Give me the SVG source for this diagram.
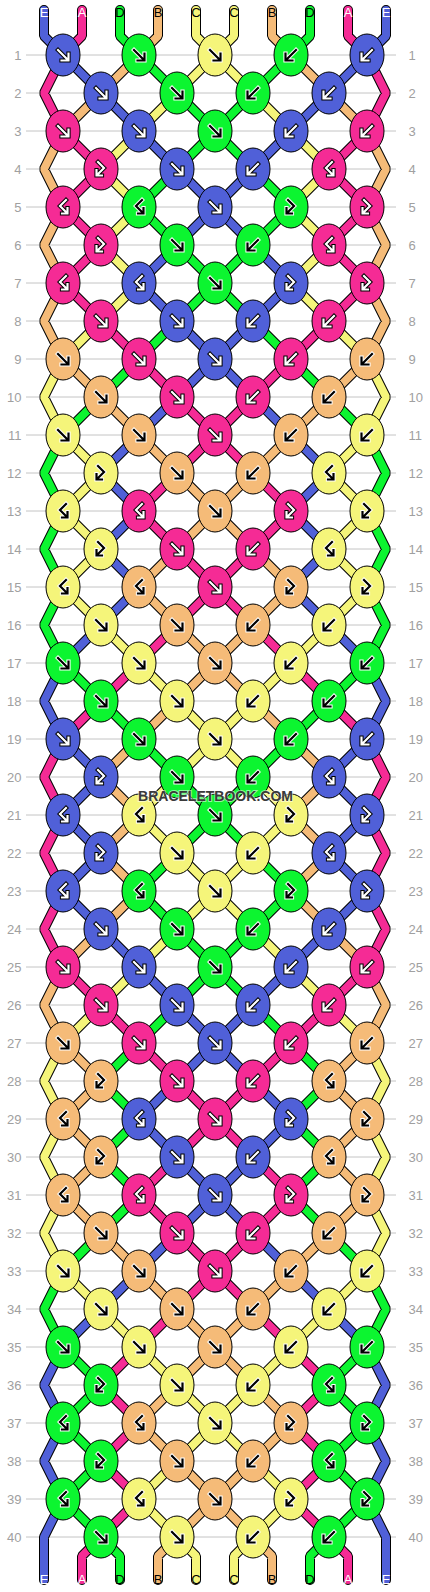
<svg xmlns="http://www.w3.org/2000/svg" xmlns:xlink="http://www.w3.org/1999/xlink" width="430" height="1592" viewBox="0 0 430 1592">
<style>
.bg{fill:#fff}
.grid{fill:none;stroke:#c4c4c4;stroke-width:1}
.rl{font-family:"Liberation Sans",Arial,sans-serif;font-size:13px;fill:#a0a0a0}
.rl.l{text-anchor:end}
.sl{font-family:"Liberation Sans",Arial,sans-serif;font-size:13px;text-anchor:middle}
.lw{fill:#fff}
.lk{fill:#000}
.so{fill:none;stroke:#000;stroke-width:10;stroke-linejoin:bevel;stroke-linecap:round}
.sc{fill:none;stroke-width:8;stroke-linejoin:bevel;stroke-linecap:round}
.sE{stroke:#5060d8}.sA{stroke:#f52b95}.sD{stroke:#0cf530}.sB{stroke:#f5bb78}.sC{stroke:#f5f57a}
ellipse{stroke:#000;stroke-width:1}
.E{fill:#5060d8}.A{fill:#f52b95}.D{fill:#0cf530}.B{fill:#f5bb78}.C{fill:#f5f57a}
.ow{fill:none;stroke:#fff;stroke-width:4.2;stroke-linecap:square}
.ok{fill:none;stroke:#000;stroke-width:4.2;stroke-linecap:square}
.aw{fill:none;stroke:#fff;stroke-width:2.2;stroke-linecap:square}
.ak{fill:none;stroke:#000;stroke-width:2.2;stroke-linecap:square}
.wm{font-family:"Liberation Sans",Arial,sans-serif;font-weight:bold;font-size:15px;fill:#3a3a3a;stroke:#fff;stroke-opacity:.55;stroke-width:2;paint-order:stroke;text-anchor:middle}
</style>
<defs>
<path id="pf" d="M-5-5L4 4M5.5-1.5V5.5H-1.5"/>
<path id="pb" d="M5-5L-4 4M-5.5-1.5V5.5H1.5"/>
<path id="pfb" d="M-3-7L3-1L-3 5M-4.5 1V6.5H1"/>
<path id="pbf" d="M3-7L-3-1L3 5M4.5 1V6.5H-1"/>
<g id="fW"><use href="#pf" class="ok"/><use href="#pf" class="aw"/></g>
<g id="bW"><use href="#pb" class="ok"/><use href="#pb" class="aw"/></g>
<g id="fbW"><use href="#pfb" class="ok"/><use href="#pfb" class="aw"/></g>
<g id="bfW"><use href="#pbf" class="ok"/><use href="#pbf" class="aw"/></g>
<g id="fK"><use href="#pf" class="ow"/><use href="#pf" class="ak"/></g>
<g id="bK"><use href="#pb" class="ow"/><use href="#pb" class="ak"/></g>
<g id="fbK"><use href="#pfb" class="ow"/><use href="#pfb" class="ak"/></g>
<g id="bfK"><use href="#pbf" class="ow"/><use href="#pbf" class="ak"/></g>
<path id="strE" d="M44 10V36L63 55M386 10V36L367 55M63 55l38 38M367 55l-38 38M101 93l38 38M329 93l-38 38M139 131l38 38M291 131l-38 38M177 169l38 38M253 169l-38 38M215 207l-38 38M215 207l38 38M177 245l-38 38M253 245l38 38M139 283l38 38M291 283l-38 38M177 321l38 38M253 321l-38 38M215 359l-38 38M215 359l38 38M177 397l-38 38M253 397l38 38M139 435l-38 38M291 435l38 38M101 473l38 38M329 473l-38 38M139 511l-38 38M291 511l38 38M101 549l38 38M329 549l-38 38M139 587l-38 38M291 587l38 38M101 625l-38 38M329 625l38 38M63 663l-19 38l19 38M367 663l19 38l-19 38M63 739l38 38M367 739l-38 38M101 777l-38 38M329 777l38 38M63 815l38 38M367 815l-38 38M101 853l-38 38M329 853l38 38M63 891l38 38M367 891l-38 38M101 929l38 38M329 929l-38 38M139 967l38 38M291 967l-38 38M177 1005l38 38M253 1005l-38 38M215 1043l-38 38M215 1043l38 38M177 1081l-38 38M253 1081l38 38M139 1119l38 38M291 1119l-38 38M177 1157l38 38M253 1157l-38 38M215 1195l-38 38M215 1195l38 38M177 1233l-38 38M253 1233l38 38M139 1271l-38 38M291 1271l38 38M101 1309l-38 38M329 1309l38 38M63 1347l-19 38l19 38M367 1347l19 38l-19 38M63 1423l-19 38l19 38M367 1423l19 38l-19 38M63 1499l-19 38V1580M367 1499l19 38V1580"/>
<path id="strA" d="M82 10V36L63 55M348 10V36L367 55M63 55l-19 38l19 38M367 55l19 38l-19 38M63 131l38 38M367 131l-38 38M101 169l-38 38M329 169l38 38M63 207l38 38M367 207l-38 38M101 245l-38 38M329 245l38 38M63 283l38 38M367 283l-38 38M101 321l38 38M329 321l-38 38M139 359l38 38M291 359l-38 38M177 397l38 38M253 397l-38 38M215 435l-38 38M215 435l38 38M177 473l-38 38M253 473l38 38M139 511l38 38M291 511l-38 38M177 549l38 38M253 549l-38 38M215 587l-38 38M215 587l38 38M177 625l-38 38M253 625l38 38M139 663l-38 38M291 663l38 38M101 701l-38 38M329 701l38 38M63 739l-19 38l19 38M367 739l19 38l-19 38M63 815l-19 38l19 38M367 815l19 38l-19 38M63 891l-19 38l19 38M367 891l19 38l-19 38M63 967l38 38M367 967l-38 38M101 1005l38 38M329 1005l-38 38M139 1043l38 38M291 1043l-38 38M177 1081l38 38M253 1081l-38 38M215 1119l-38 38M215 1119l38 38M177 1157l-38 38M253 1157l38 38M139 1195l38 38M291 1195l-38 38M177 1233l38 38M253 1233l-38 38M215 1271l-38 38M215 1271l38 38M177 1309l-38 38M253 1309l38 38M139 1347l-38 38M291 1347l38 38M101 1385l38 38M329 1385l-38 38M139 1423l-38 38M291 1423l38 38M101 1461l38 38M329 1461l-38 38M139 1499l-38 38M291 1499l38 38M101 1537l-19 19V1580M329 1537l19 19V1580"/>
<path id="strD" d="M120 10V36L139 55M310 10V36L291 55M139 55l38 38M291 55l-38 38M177 93l38 38M253 93l-38 38M215 131l-38 38M215 131l38 38M177 169l-38 38M253 169l38 38M139 207l38 38M291 207l-38 38M177 245l38 38M253 245l-38 38M215 283l-38 38M215 283l38 38M177 321l-38 38M253 321l38 38M139 359l-38 38M291 359l38 38M101 397l-38 38M329 397l38 38M63 435l-19 38l19 38M367 435l19 38l-19 38M63 511l-19 38l19 38M367 511l19 38l-19 38M63 587l-19 38l19 38M367 587l19 38l-19 38M63 663l38 38M367 663l-38 38M101 701l38 38M329 701l-38 38M139 739l38 38M291 739l-38 38M177 777l38 38M253 777l-38 38M215 815l-38 38M215 815l38 38M177 853l-38 38M253 853l38 38M139 891l38 38M291 891l-38 38M177 929l38 38M253 929l-38 38M215 967l-38 38M215 967l38 38M177 1005l-38 38M253 1005l38 38M139 1043l-38 38M291 1043l38 38M101 1081l38 38M329 1081l-38 38M139 1119l-38 38M291 1119l38 38M101 1157l38 38M329 1157l-38 38M139 1195l-38 38M291 1195l38 38M101 1233l-38 38M329 1233l38 38M63 1271l-19 38l19 38M367 1271l19 38l-19 38M63 1347l38 38M367 1347l-38 38M101 1385l-38 38M329 1385l38 38M63 1423l38 38M367 1423l-38 38M101 1461l-38 38M329 1461l38 38M63 1499l38 38M367 1499l-38 38M101 1537l19 19V1580M329 1537l-19 19V1580"/>
<path id="strB" d="M158 10V36L139 55M272 10V36L291 55M139 55l-38 38M291 55l38 38M101 93l-38 38M329 93l38 38M63 131l-19 38l19 38M367 131l19 38l-19 38M63 207l-19 38l19 38M367 207l19 38l-19 38M63 283l-19 38l19 38M367 283l19 38l-19 38M63 359l38 38M367 359l-38 38M101 397l38 38M329 397l-38 38M139 435l38 38M291 435l-38 38M177 473l38 38M253 473l-38 38M215 511l-38 38M215 511l38 38M177 549l-38 38M253 549l38 38M139 587l38 38M291 587l-38 38M177 625l38 38M253 625l-38 38M215 663l-38 38M215 663l38 38M177 701l-38 38M253 701l38 38M139 739l-38 38M291 739l38 38M101 777l38 38M329 777l-38 38M139 815l-38 38M291 815l38 38M101 853l38 38M329 853l-38 38M139 891l-38 38M291 891l38 38M101 929l-38 38M329 929l38 38M63 967l-19 38l19 38M367 967l19 38l-19 38M63 1043l38 38M367 1043l-38 38M101 1081l-38 38M329 1081l38 38M63 1119l38 38M367 1119l-38 38M101 1157l-38 38M329 1157l38 38M63 1195l38 38M367 1195l-38 38M101 1233l38 38M329 1233l-38 38M139 1271l38 38M291 1271l-38 38M177 1309l38 38M253 1309l-38 38M215 1347l-38 38M215 1347l38 38M177 1385l-38 38M253 1385l38 38M139 1423l38 38M291 1423l-38 38M177 1461l38 38M253 1461l-38 38M215 1499l-38 38M215 1499l38 38M177 1537l-19 19V1580M253 1537l19 19V1580"/>
<path id="strC" d="M196 10V36L215 55M234 10V36L215 55M215 55l-38 38M215 55l38 38M177 93l-38 38M253 93l38 38M139 131l-38 38M291 131l38 38M101 169l38 38M329 169l-38 38M139 207l-38 38M291 207l38 38M101 245l38 38M329 245l-38 38M139 283l-38 38M291 283l38 38M101 321l-38 38M329 321l38 38M63 359l-19 38l19 38M367 359l19 38l-19 38M63 435l38 38M367 435l-38 38M101 473l-38 38M329 473l38 38M63 511l38 38M367 511l-38 38M101 549l-38 38M329 549l38 38M63 587l38 38M367 587l-38 38M101 625l38 38M329 625l-38 38M139 663l38 38M291 663l-38 38M177 701l38 38M253 701l-38 38M215 739l-38 38M215 739l38 38M177 777l-38 38M253 777l38 38M139 815l38 38M291 815l-38 38M177 853l38 38M253 853l-38 38M215 891l-38 38M215 891l38 38M177 929l-38 38M253 929l38 38M139 967l-38 38M291 967l38 38M101 1005l-38 38M329 1005l38 38M63 1043l-19 38l19 38M367 1043l19 38l-19 38M63 1119l-19 38l19 38M367 1119l19 38l-19 38M63 1195l-19 38l19 38M367 1195l19 38l-19 38M63 1271l38 38M367 1271l-38 38M101 1309l38 38M329 1309l-38 38M139 1347l38 38M291 1347l-38 38M177 1385l38 38M253 1385l-38 38M215 1423l-38 38M215 1423l38 38M177 1461l-38 38M253 1461l38 38M139 1499l38 38M291 1499l-38 38M177 1537l19 19V1580M253 1537l-19 19V1580"/>
</defs>
<rect class="bg" x="0" y="0" width="430" height="1592"/>
<path id="grid" class="grid" d="M26 55H396M26 93H396M26 131H396M26 169H396M26 207H396M26 245H396M26 283H396M26 321H396M26 359H396M26 397H396M26 435H396M26 473H396M26 511H396M26 549H396M26 587H396M26 625H396M26 663H396M26 701H396M26 739H396M26 777H396M26 815H396M26 853H396M26 891H396M26 929H396M26 967H396M26 1005H396M26 1043H396M26 1081H396M26 1119H396M26 1157H396M26 1195H396M26 1233H396M26 1271H396M26 1309H396M26 1347H396M26 1385H396M26 1423H396M26 1461H396M26 1499H396M26 1537H396"/>
<g id="row-labels">
<text class="rl l" x="21.5" y="59.5">1</text><text class="rl" x="408.5" y="59.5">1</text>
<text class="rl l" x="21.5" y="97.5">2</text><text class="rl" x="408.5" y="97.5">2</text>
<text class="rl l" x="21.5" y="135.5">3</text><text class="rl" x="408.5" y="135.5">3</text>
<text class="rl l" x="21.5" y="173.5">4</text><text class="rl" x="408.5" y="173.5">4</text>
<text class="rl l" x="21.5" y="211.5">5</text><text class="rl" x="408.5" y="211.5">5</text>
<text class="rl l" x="21.5" y="249.5">6</text><text class="rl" x="408.5" y="249.5">6</text>
<text class="rl l" x="21.5" y="287.5">7</text><text class="rl" x="408.5" y="287.5">7</text>
<text class="rl l" x="21.5" y="325.5">8</text><text class="rl" x="408.5" y="325.5">8</text>
<text class="rl l" x="21.5" y="363.5">9</text><text class="rl" x="408.5" y="363.5">9</text>
<text class="rl l" x="21.5" y="401.5">10</text><text class="rl" x="408.5" y="401.5">10</text>
<text class="rl l" x="21.5" y="439.5">11</text><text class="rl" x="408.5" y="439.5">11</text>
<text class="rl l" x="21.5" y="477.5">12</text><text class="rl" x="408.5" y="477.5">12</text>
<text class="rl l" x="21.5" y="515.5">13</text><text class="rl" x="408.5" y="515.5">13</text>
<text class="rl l" x="21.5" y="553.5">14</text><text class="rl" x="408.5" y="553.5">14</text>
<text class="rl l" x="21.5" y="591.5">15</text><text class="rl" x="408.5" y="591.5">15</text>
<text class="rl l" x="21.5" y="629.5">16</text><text class="rl" x="408.5" y="629.5">16</text>
<text class="rl l" x="21.5" y="667.5">17</text><text class="rl" x="408.5" y="667.5">17</text>
<text class="rl l" x="21.5" y="705.5">18</text><text class="rl" x="408.5" y="705.5">18</text>
<text class="rl l" x="21.5" y="743.5">19</text><text class="rl" x="408.5" y="743.5">19</text>
<text class="rl l" x="21.5" y="781.5">20</text><text class="rl" x="408.5" y="781.5">20</text>
<text class="rl l" x="21.5" y="819.5">21</text><text class="rl" x="408.5" y="819.5">21</text>
<text class="rl l" x="21.5" y="857.5">22</text><text class="rl" x="408.5" y="857.5">22</text>
<text class="rl l" x="21.5" y="895.5">23</text><text class="rl" x="408.5" y="895.5">23</text>
<text class="rl l" x="21.5" y="933.5">24</text><text class="rl" x="408.5" y="933.5">24</text>
<text class="rl l" x="21.5" y="971.5">25</text><text class="rl" x="408.5" y="971.5">25</text>
<text class="rl l" x="21.5" y="1009.5">26</text><text class="rl" x="408.5" y="1009.5">26</text>
<text class="rl l" x="21.5" y="1047.5">27</text><text class="rl" x="408.5" y="1047.5">27</text>
<text class="rl l" x="21.5" y="1085.5">28</text><text class="rl" x="408.5" y="1085.5">28</text>
<text class="rl l" x="21.5" y="1123.5">29</text><text class="rl" x="408.5" y="1123.5">29</text>
<text class="rl l" x="21.5" y="1161.5">30</text><text class="rl" x="408.5" y="1161.5">30</text>
<text class="rl l" x="21.5" y="1199.5">31</text><text class="rl" x="408.5" y="1199.5">31</text>
<text class="rl l" x="21.5" y="1237.5">32</text><text class="rl" x="408.5" y="1237.5">32</text>
<text class="rl l" x="21.5" y="1275.5">33</text><text class="rl" x="408.5" y="1275.5">33</text>
<text class="rl l" x="21.5" y="1313.5">34</text><text class="rl" x="408.5" y="1313.5">34</text>
<text class="rl l" x="21.5" y="1351.5">35</text><text class="rl" x="408.5" y="1351.5">35</text>
<text class="rl l" x="21.5" y="1389.5">36</text><text class="rl" x="408.5" y="1389.5">36</text>
<text class="rl l" x="21.5" y="1427.5">37</text><text class="rl" x="408.5" y="1427.5">37</text>
<text class="rl l" x="21.5" y="1465.5">38</text><text class="rl" x="408.5" y="1465.5">38</text>
<text class="rl l" x="21.5" y="1503.5">39</text><text class="rl" x="408.5" y="1503.5">39</text>
<text class="rl l" x="21.5" y="1541.5">40</text><text class="rl" x="408.5" y="1541.5">40</text>
</g>
<g id="connectors">
<use href="#strE" class="so"/><use href="#strA" class="so"/><use href="#strD" class="so"/><use href="#strB" class="so"/><use href="#strC" class="so"/>
<use href="#strE" class="sc sE"/><use href="#strA" class="sc sA"/><use href="#strD" class="sc sD"/><use href="#strB" class="sc sB"/><use href="#strC" class="sc sC"/>
</g>
<g id="string-labels">
<text class="sl lw" x="44" y="17">E</text><text class="sl lw" x="82" y="17">A</text><text class="sl lk" x="120" y="17">D</text><text class="sl lk" x="158" y="17">B</text><text class="sl lk" x="196" y="17">C</text><text class="sl lk" x="234" y="17">C</text><text class="sl lk" x="272" y="17">B</text><text class="sl lk" x="310" y="17">D</text><text class="sl lw" x="348" y="17">A</text><text class="sl lw" x="386" y="17">E</text>
<text class="sl lw" x="44" y="1584">E</text><text class="sl lw" x="82" y="1584">A</text><text class="sl lk" x="120" y="1584">D</text><text class="sl lk" x="158" y="1584">B</text><text class="sl lk" x="196" y="1584">C</text><text class="sl lk" x="234" y="1584">C</text><text class="sl lk" x="272" y="1584">B</text><text class="sl lk" x="310" y="1584">D</text><text class="sl lw" x="348" y="1584">A</text><text class="sl lw" x="386" y="1584">E</text>
</g>
<g id="knots">
<g id="k1-1"><ellipse class="E" cx="63" cy="55" rx="17" ry="21"/><use href="#fW" x="63" y="55"/></g>
<g id="k1-2"><ellipse class="D" cx="139" cy="55" rx="17" ry="21"/><use href="#fK" x="139" y="55"/></g>
<g id="k1-3"><ellipse class="C" cx="215" cy="55" rx="17" ry="21"/><use href="#fK" x="215" y="55"/></g>
<g id="k1-4"><ellipse class="D" cx="291" cy="55" rx="17" ry="21"/><use href="#bK" x="291" y="55"/></g>
<g id="k1-5"><ellipse class="E" cx="367" cy="55" rx="17" ry="21"/><use href="#bW" x="367" y="55"/></g>
<g id="k2-1"><ellipse class="E" cx="101" cy="93" rx="17" ry="21"/><use href="#fW" x="101" y="93"/></g>
<g id="k2-2"><ellipse class="D" cx="177" cy="93" rx="17" ry="21"/><use href="#fK" x="177" y="93"/></g>
<g id="k2-3"><ellipse class="D" cx="253" cy="93" rx="17" ry="21"/><use href="#bK" x="253" y="93"/></g>
<g id="k2-4"><ellipse class="E" cx="329" cy="93" rx="17" ry="21"/><use href="#bW" x="329" y="93"/></g>
<g id="k3-1"><ellipse class="A" cx="63" cy="131" rx="17" ry="21"/><use href="#fW" x="63" y="131"/></g>
<g id="k3-2"><ellipse class="E" cx="139" cy="131" rx="17" ry="21"/><use href="#fW" x="139" y="131"/></g>
<g id="k3-3"><ellipse class="D" cx="215" cy="131" rx="17" ry="21"/><use href="#fK" x="215" y="131"/></g>
<g id="k3-4"><ellipse class="E" cx="291" cy="131" rx="17" ry="21"/><use href="#bW" x="291" y="131"/></g>
<g id="k3-5"><ellipse class="A" cx="367" cy="131" rx="17" ry="21"/><use href="#bW" x="367" y="131"/></g>
<g id="k4-1"><ellipse class="A" cx="101" cy="169" rx="17" ry="21"/><use href="#fbW" x="101" y="169"/></g>
<g id="k4-2"><ellipse class="E" cx="177" cy="169" rx="17" ry="21"/><use href="#fW" x="177" y="169"/></g>
<g id="k4-3"><ellipse class="E" cx="253" cy="169" rx="17" ry="21"/><use href="#bW" x="253" y="169"/></g>
<g id="k4-4"><ellipse class="A" cx="329" cy="169" rx="17" ry="21"/><use href="#bfW" x="329" y="169"/></g>
<g id="k5-1"><ellipse class="A" cx="63" cy="207" rx="17" ry="21"/><use href="#bfW" x="63" y="207"/></g>
<g id="k5-2"><ellipse class="D" cx="139" cy="207" rx="17" ry="21"/><use href="#bfK" x="139" y="207"/></g>
<g id="k5-3"><ellipse class="E" cx="215" cy="207" rx="17" ry="21"/><use href="#fW" x="215" y="207"/></g>
<g id="k5-4"><ellipse class="D" cx="291" cy="207" rx="17" ry="21"/><use href="#fbK" x="291" y="207"/></g>
<g id="k5-5"><ellipse class="A" cx="367" cy="207" rx="17" ry="21"/><use href="#fbW" x="367" y="207"/></g>
<g id="k6-1"><ellipse class="A" cx="101" cy="245" rx="17" ry="21"/><use href="#fbW" x="101" y="245"/></g>
<g id="k6-2"><ellipse class="D" cx="177" cy="245" rx="17" ry="21"/><use href="#fK" x="177" y="245"/></g>
<g id="k6-3"><ellipse class="D" cx="253" cy="245" rx="17" ry="21"/><use href="#bK" x="253" y="245"/></g>
<g id="k6-4"><ellipse class="A" cx="329" cy="245" rx="17" ry="21"/><use href="#bfW" x="329" y="245"/></g>
<g id="k7-1"><ellipse class="A" cx="63" cy="283" rx="17" ry="21"/><use href="#bfW" x="63" y="283"/></g>
<g id="k7-2"><ellipse class="E" cx="139" cy="283" rx="17" ry="21"/><use href="#bfW" x="139" y="283"/></g>
<g id="k7-3"><ellipse class="D" cx="215" cy="283" rx="17" ry="21"/><use href="#fK" x="215" y="283"/></g>
<g id="k7-4"><ellipse class="E" cx="291" cy="283" rx="17" ry="21"/><use href="#fbW" x="291" y="283"/></g>
<g id="k7-5"><ellipse class="A" cx="367" cy="283" rx="17" ry="21"/><use href="#fbW" x="367" y="283"/></g>
<g id="k8-1"><ellipse class="A" cx="101" cy="321" rx="17" ry="21"/><use href="#fW" x="101" y="321"/></g>
<g id="k8-2"><ellipse class="E" cx="177" cy="321" rx="17" ry="21"/><use href="#fW" x="177" y="321"/></g>
<g id="k8-3"><ellipse class="E" cx="253" cy="321" rx="17" ry="21"/><use href="#bW" x="253" y="321"/></g>
<g id="k8-4"><ellipse class="A" cx="329" cy="321" rx="17" ry="21"/><use href="#bW" x="329" y="321"/></g>
<g id="k9-1"><ellipse class="B" cx="63" cy="359" rx="17" ry="21"/><use href="#fK" x="63" y="359"/></g>
<g id="k9-2"><ellipse class="A" cx="139" cy="359" rx="17" ry="21"/><use href="#fW" x="139" y="359"/></g>
<g id="k9-3"><ellipse class="E" cx="215" cy="359" rx="17" ry="21"/><use href="#fW" x="215" y="359"/></g>
<g id="k9-4"><ellipse class="A" cx="291" cy="359" rx="17" ry="21"/><use href="#bW" x="291" y="359"/></g>
<g id="k9-5"><ellipse class="B" cx="367" cy="359" rx="17" ry="21"/><use href="#bK" x="367" y="359"/></g>
<g id="k10-1"><ellipse class="B" cx="101" cy="397" rx="17" ry="21"/><use href="#fK" x="101" y="397"/></g>
<g id="k10-2"><ellipse class="A" cx="177" cy="397" rx="17" ry="21"/><use href="#fW" x="177" y="397"/></g>
<g id="k10-3"><ellipse class="A" cx="253" cy="397" rx="17" ry="21"/><use href="#bW" x="253" y="397"/></g>
<g id="k10-4"><ellipse class="B" cx="329" cy="397" rx="17" ry="21"/><use href="#bK" x="329" y="397"/></g>
<g id="k11-1"><ellipse class="C" cx="63" cy="435" rx="17" ry="21"/><use href="#fK" x="63" y="435"/></g>
<g id="k11-2"><ellipse class="B" cx="139" cy="435" rx="17" ry="21"/><use href="#fK" x="139" y="435"/></g>
<g id="k11-3"><ellipse class="A" cx="215" cy="435" rx="17" ry="21"/><use href="#fW" x="215" y="435"/></g>
<g id="k11-4"><ellipse class="B" cx="291" cy="435" rx="17" ry="21"/><use href="#bK" x="291" y="435"/></g>
<g id="k11-5"><ellipse class="C" cx="367" cy="435" rx="17" ry="21"/><use href="#bK" x="367" y="435"/></g>
<g id="k12-1"><ellipse class="C" cx="101" cy="473" rx="17" ry="21"/><use href="#fbK" x="101" y="473"/></g>
<g id="k12-2"><ellipse class="B" cx="177" cy="473" rx="17" ry="21"/><use href="#fK" x="177" y="473"/></g>
<g id="k12-3"><ellipse class="B" cx="253" cy="473" rx="17" ry="21"/><use href="#bK" x="253" y="473"/></g>
<g id="k12-4"><ellipse class="C" cx="329" cy="473" rx="17" ry="21"/><use href="#bfK" x="329" y="473"/></g>
<g id="k13-1"><ellipse class="C" cx="63" cy="511" rx="17" ry="21"/><use href="#bfK" x="63" y="511"/></g>
<g id="k13-2"><ellipse class="A" cx="139" cy="511" rx="17" ry="21"/><use href="#bfW" x="139" y="511"/></g>
<g id="k13-3"><ellipse class="B" cx="215" cy="511" rx="17" ry="21"/><use href="#fK" x="215" y="511"/></g>
<g id="k13-4"><ellipse class="A" cx="291" cy="511" rx="17" ry="21"/><use href="#fbW" x="291" y="511"/></g>
<g id="k13-5"><ellipse class="C" cx="367" cy="511" rx="17" ry="21"/><use href="#fbK" x="367" y="511"/></g>
<g id="k14-1"><ellipse class="C" cx="101" cy="549" rx="17" ry="21"/><use href="#fbK" x="101" y="549"/></g>
<g id="k14-2"><ellipse class="A" cx="177" cy="549" rx="17" ry="21"/><use href="#fW" x="177" y="549"/></g>
<g id="k14-3"><ellipse class="A" cx="253" cy="549" rx="17" ry="21"/><use href="#bW" x="253" y="549"/></g>
<g id="k14-4"><ellipse class="C" cx="329" cy="549" rx="17" ry="21"/><use href="#bfK" x="329" y="549"/></g>
<g id="k15-1"><ellipse class="C" cx="63" cy="587" rx="17" ry="21"/><use href="#bfK" x="63" y="587"/></g>
<g id="k15-2"><ellipse class="B" cx="139" cy="587" rx="17" ry="21"/><use href="#bfK" x="139" y="587"/></g>
<g id="k15-3"><ellipse class="A" cx="215" cy="587" rx="17" ry="21"/><use href="#fW" x="215" y="587"/></g>
<g id="k15-4"><ellipse class="B" cx="291" cy="587" rx="17" ry="21"/><use href="#fbK" x="291" y="587"/></g>
<g id="k15-5"><ellipse class="C" cx="367" cy="587" rx="17" ry="21"/><use href="#fbK" x="367" y="587"/></g>
<g id="k16-1"><ellipse class="C" cx="101" cy="625" rx="17" ry="21"/><use href="#fK" x="101" y="625"/></g>
<g id="k16-2"><ellipse class="B" cx="177" cy="625" rx="17" ry="21"/><use href="#fK" x="177" y="625"/></g>
<g id="k16-3"><ellipse class="B" cx="253" cy="625" rx="17" ry="21"/><use href="#bK" x="253" y="625"/></g>
<g id="k16-4"><ellipse class="C" cx="329" cy="625" rx="17" ry="21"/><use href="#bK" x="329" y="625"/></g>
<g id="k17-1"><ellipse class="D" cx="63" cy="663" rx="17" ry="21"/><use href="#fK" x="63" y="663"/></g>
<g id="k17-2"><ellipse class="C" cx="139" cy="663" rx="17" ry="21"/><use href="#fK" x="139" y="663"/></g>
<g id="k17-3"><ellipse class="B" cx="215" cy="663" rx="17" ry="21"/><use href="#fK" x="215" y="663"/></g>
<g id="k17-4"><ellipse class="C" cx="291" cy="663" rx="17" ry="21"/><use href="#bK" x="291" y="663"/></g>
<g id="k17-5"><ellipse class="D" cx="367" cy="663" rx="17" ry="21"/><use href="#bK" x="367" y="663"/></g>
<g id="k18-1"><ellipse class="D" cx="101" cy="701" rx="17" ry="21"/><use href="#fK" x="101" y="701"/></g>
<g id="k18-2"><ellipse class="C" cx="177" cy="701" rx="17" ry="21"/><use href="#fK" x="177" y="701"/></g>
<g id="k18-3"><ellipse class="C" cx="253" cy="701" rx="17" ry="21"/><use href="#bK" x="253" y="701"/></g>
<g id="k18-4"><ellipse class="D" cx="329" cy="701" rx="17" ry="21"/><use href="#bK" x="329" y="701"/></g>
<g id="k19-1"><ellipse class="E" cx="63" cy="739" rx="17" ry="21"/><use href="#fW" x="63" y="739"/></g>
<g id="k19-2"><ellipse class="D" cx="139" cy="739" rx="17" ry="21"/><use href="#fK" x="139" y="739"/></g>
<g id="k19-3"><ellipse class="C" cx="215" cy="739" rx="17" ry="21"/><use href="#fK" x="215" y="739"/></g>
<g id="k19-4"><ellipse class="D" cx="291" cy="739" rx="17" ry="21"/><use href="#bK" x="291" y="739"/></g>
<g id="k19-5"><ellipse class="E" cx="367" cy="739" rx="17" ry="21"/><use href="#bW" x="367" y="739"/></g>
<g id="k20-1"><ellipse class="E" cx="101" cy="777" rx="17" ry="21"/><use href="#fbW" x="101" y="777"/></g>
<g id="k20-2"><ellipse class="D" cx="177" cy="777" rx="17" ry="21"/><use href="#fK" x="177" y="777"/></g>
<g id="k20-3"><ellipse class="D" cx="253" cy="777" rx="17" ry="21"/><use href="#bK" x="253" y="777"/></g>
<g id="k20-4"><ellipse class="E" cx="329" cy="777" rx="17" ry="21"/><use href="#bfW" x="329" y="777"/></g>
<g id="k21-1"><ellipse class="E" cx="63" cy="815" rx="17" ry="21"/><use href="#bfW" x="63" y="815"/></g>
<g id="k21-2"><ellipse class="C" cx="139" cy="815" rx="17" ry="21"/><use href="#bfK" x="139" y="815"/></g>
<g id="k21-3"><ellipse class="D" cx="215" cy="815" rx="17" ry="21"/><use href="#fK" x="215" y="815"/></g>
<g id="k21-4"><ellipse class="C" cx="291" cy="815" rx="17" ry="21"/><use href="#fbK" x="291" y="815"/></g>
<g id="k21-5"><ellipse class="E" cx="367" cy="815" rx="17" ry="21"/><use href="#fbW" x="367" y="815"/></g>
<g id="k22-1"><ellipse class="E" cx="101" cy="853" rx="17" ry="21"/><use href="#fbW" x="101" y="853"/></g>
<g id="k22-2"><ellipse class="C" cx="177" cy="853" rx="17" ry="21"/><use href="#fK" x="177" y="853"/></g>
<g id="k22-3"><ellipse class="C" cx="253" cy="853" rx="17" ry="21"/><use href="#bK" x="253" y="853"/></g>
<g id="k22-4"><ellipse class="E" cx="329" cy="853" rx="17" ry="21"/><use href="#bfW" x="329" y="853"/></g>
<g id="k23-1"><ellipse class="E" cx="63" cy="891" rx="17" ry="21"/><use href="#bfW" x="63" y="891"/></g>
<g id="k23-2"><ellipse class="D" cx="139" cy="891" rx="17" ry="21"/><use href="#bfK" x="139" y="891"/></g>
<g id="k23-3"><ellipse class="C" cx="215" cy="891" rx="17" ry="21"/><use href="#fK" x="215" y="891"/></g>
<g id="k23-4"><ellipse class="D" cx="291" cy="891" rx="17" ry="21"/><use href="#fbK" x="291" y="891"/></g>
<g id="k23-5"><ellipse class="E" cx="367" cy="891" rx="17" ry="21"/><use href="#fbW" x="367" y="891"/></g>
<g id="k24-1"><ellipse class="E" cx="101" cy="929" rx="17" ry="21"/><use href="#fW" x="101" y="929"/></g>
<g id="k24-2"><ellipse class="D" cx="177" cy="929" rx="17" ry="21"/><use href="#fK" x="177" y="929"/></g>
<g id="k24-3"><ellipse class="D" cx="253" cy="929" rx="17" ry="21"/><use href="#bK" x="253" y="929"/></g>
<g id="k24-4"><ellipse class="E" cx="329" cy="929" rx="17" ry="21"/><use href="#bW" x="329" y="929"/></g>
<g id="k25-1"><ellipse class="A" cx="63" cy="967" rx="17" ry="21"/><use href="#fW" x="63" y="967"/></g>
<g id="k25-2"><ellipse class="E" cx="139" cy="967" rx="17" ry="21"/><use href="#fW" x="139" y="967"/></g>
<g id="k25-3"><ellipse class="D" cx="215" cy="967" rx="17" ry="21"/><use href="#fK" x="215" y="967"/></g>
<g id="k25-4"><ellipse class="E" cx="291" cy="967" rx="17" ry="21"/><use href="#bW" x="291" y="967"/></g>
<g id="k25-5"><ellipse class="A" cx="367" cy="967" rx="17" ry="21"/><use href="#bW" x="367" y="967"/></g>
<g id="k26-1"><ellipse class="A" cx="101" cy="1005" rx="17" ry="21"/><use href="#fW" x="101" y="1005"/></g>
<g id="k26-2"><ellipse class="E" cx="177" cy="1005" rx="17" ry="21"/><use href="#fW" x="177" y="1005"/></g>
<g id="k26-3"><ellipse class="E" cx="253" cy="1005" rx="17" ry="21"/><use href="#bW" x="253" y="1005"/></g>
<g id="k26-4"><ellipse class="A" cx="329" cy="1005" rx="17" ry="21"/><use href="#bW" x="329" y="1005"/></g>
<g id="k27-1"><ellipse class="B" cx="63" cy="1043" rx="17" ry="21"/><use href="#fK" x="63" y="1043"/></g>
<g id="k27-2"><ellipse class="A" cx="139" cy="1043" rx="17" ry="21"/><use href="#fW" x="139" y="1043"/></g>
<g id="k27-3"><ellipse class="E" cx="215" cy="1043" rx="17" ry="21"/><use href="#fW" x="215" y="1043"/></g>
<g id="k27-4"><ellipse class="A" cx="291" cy="1043" rx="17" ry="21"/><use href="#bW" x="291" y="1043"/></g>
<g id="k27-5"><ellipse class="B" cx="367" cy="1043" rx="17" ry="21"/><use href="#bK" x="367" y="1043"/></g>
<g id="k28-1"><ellipse class="B" cx="101" cy="1081" rx="17" ry="21"/><use href="#fbK" x="101" y="1081"/></g>
<g id="k28-2"><ellipse class="A" cx="177" cy="1081" rx="17" ry="21"/><use href="#fW" x="177" y="1081"/></g>
<g id="k28-3"><ellipse class="A" cx="253" cy="1081" rx="17" ry="21"/><use href="#bW" x="253" y="1081"/></g>
<g id="k28-4"><ellipse class="B" cx="329" cy="1081" rx="17" ry="21"/><use href="#bfK" x="329" y="1081"/></g>
<g id="k29-1"><ellipse class="B" cx="63" cy="1119" rx="17" ry="21"/><use href="#bfK" x="63" y="1119"/></g>
<g id="k29-2"><ellipse class="E" cx="139" cy="1119" rx="17" ry="21"/><use href="#bfW" x="139" y="1119"/></g>
<g id="k29-3"><ellipse class="A" cx="215" cy="1119" rx="17" ry="21"/><use href="#fW" x="215" y="1119"/></g>
<g id="k29-4"><ellipse class="E" cx="291" cy="1119" rx="17" ry="21"/><use href="#fbW" x="291" y="1119"/></g>
<g id="k29-5"><ellipse class="B" cx="367" cy="1119" rx="17" ry="21"/><use href="#fbK" x="367" y="1119"/></g>
<g id="k30-1"><ellipse class="B" cx="101" cy="1157" rx="17" ry="21"/><use href="#fbK" x="101" y="1157"/></g>
<g id="k30-2"><ellipse class="E" cx="177" cy="1157" rx="17" ry="21"/><use href="#fW" x="177" y="1157"/></g>
<g id="k30-3"><ellipse class="E" cx="253" cy="1157" rx="17" ry="21"/><use href="#bW" x="253" y="1157"/></g>
<g id="k30-4"><ellipse class="B" cx="329" cy="1157" rx="17" ry="21"/><use href="#bfK" x="329" y="1157"/></g>
<g id="k31-1"><ellipse class="B" cx="63" cy="1195" rx="17" ry="21"/><use href="#bfK" x="63" y="1195"/></g>
<g id="k31-2"><ellipse class="A" cx="139" cy="1195" rx="17" ry="21"/><use href="#bfW" x="139" y="1195"/></g>
<g id="k31-3"><ellipse class="E" cx="215" cy="1195" rx="17" ry="21"/><use href="#fW" x="215" y="1195"/></g>
<g id="k31-4"><ellipse class="A" cx="291" cy="1195" rx="17" ry="21"/><use href="#fbW" x="291" y="1195"/></g>
<g id="k31-5"><ellipse class="B" cx="367" cy="1195" rx="17" ry="21"/><use href="#fbK" x="367" y="1195"/></g>
<g id="k32-1"><ellipse class="B" cx="101" cy="1233" rx="17" ry="21"/><use href="#fK" x="101" y="1233"/></g>
<g id="k32-2"><ellipse class="A" cx="177" cy="1233" rx="17" ry="21"/><use href="#fW" x="177" y="1233"/></g>
<g id="k32-3"><ellipse class="A" cx="253" cy="1233" rx="17" ry="21"/><use href="#bW" x="253" y="1233"/></g>
<g id="k32-4"><ellipse class="B" cx="329" cy="1233" rx="17" ry="21"/><use href="#bK" x="329" y="1233"/></g>
<g id="k33-1"><ellipse class="C" cx="63" cy="1271" rx="17" ry="21"/><use href="#fK" x="63" y="1271"/></g>
<g id="k33-2"><ellipse class="B" cx="139" cy="1271" rx="17" ry="21"/><use href="#fK" x="139" y="1271"/></g>
<g id="k33-3"><ellipse class="A" cx="215" cy="1271" rx="17" ry="21"/><use href="#fW" x="215" y="1271"/></g>
<g id="k33-4"><ellipse class="B" cx="291" cy="1271" rx="17" ry="21"/><use href="#bK" x="291" y="1271"/></g>
<g id="k33-5"><ellipse class="C" cx="367" cy="1271" rx="17" ry="21"/><use href="#bK" x="367" y="1271"/></g>
<g id="k34-1"><ellipse class="C" cx="101" cy="1309" rx="17" ry="21"/><use href="#fK" x="101" y="1309"/></g>
<g id="k34-2"><ellipse class="B" cx="177" cy="1309" rx="17" ry="21"/><use href="#fK" x="177" y="1309"/></g>
<g id="k34-3"><ellipse class="B" cx="253" cy="1309" rx="17" ry="21"/><use href="#bK" x="253" y="1309"/></g>
<g id="k34-4"><ellipse class="C" cx="329" cy="1309" rx="17" ry="21"/><use href="#bK" x="329" y="1309"/></g>
<g id="k35-1"><ellipse class="D" cx="63" cy="1347" rx="17" ry="21"/><use href="#fK" x="63" y="1347"/></g>
<g id="k35-2"><ellipse class="C" cx="139" cy="1347" rx="17" ry="21"/><use href="#fK" x="139" y="1347"/></g>
<g id="k35-3"><ellipse class="B" cx="215" cy="1347" rx="17" ry="21"/><use href="#fK" x="215" y="1347"/></g>
<g id="k35-4"><ellipse class="C" cx="291" cy="1347" rx="17" ry="21"/><use href="#bK" x="291" y="1347"/></g>
<g id="k35-5"><ellipse class="D" cx="367" cy="1347" rx="17" ry="21"/><use href="#bK" x="367" y="1347"/></g>
<g id="k36-1"><ellipse class="D" cx="101" cy="1385" rx="17" ry="21"/><use href="#fbK" x="101" y="1385"/></g>
<g id="k36-2"><ellipse class="C" cx="177" cy="1385" rx="17" ry="21"/><use href="#fK" x="177" y="1385"/></g>
<g id="k36-3"><ellipse class="C" cx="253" cy="1385" rx="17" ry="21"/><use href="#bK" x="253" y="1385"/></g>
<g id="k36-4"><ellipse class="D" cx="329" cy="1385" rx="17" ry="21"/><use href="#bfK" x="329" y="1385"/></g>
<g id="k37-1"><ellipse class="D" cx="63" cy="1423" rx="17" ry="21"/><use href="#bfK" x="63" y="1423"/></g>
<g id="k37-2"><ellipse class="B" cx="139" cy="1423" rx="17" ry="21"/><use href="#bfK" x="139" y="1423"/></g>
<g id="k37-3"><ellipse class="C" cx="215" cy="1423" rx="17" ry="21"/><use href="#fK" x="215" y="1423"/></g>
<g id="k37-4"><ellipse class="B" cx="291" cy="1423" rx="17" ry="21"/><use href="#fbK" x="291" y="1423"/></g>
<g id="k37-5"><ellipse class="D" cx="367" cy="1423" rx="17" ry="21"/><use href="#fbK" x="367" y="1423"/></g>
<g id="k38-1"><ellipse class="D" cx="101" cy="1461" rx="17" ry="21"/><use href="#fbK" x="101" y="1461"/></g>
<g id="k38-2"><ellipse class="B" cx="177" cy="1461" rx="17" ry="21"/><use href="#fK" x="177" y="1461"/></g>
<g id="k38-3"><ellipse class="B" cx="253" cy="1461" rx="17" ry="21"/><use href="#bK" x="253" y="1461"/></g>
<g id="k38-4"><ellipse class="D" cx="329" cy="1461" rx="17" ry="21"/><use href="#bfK" x="329" y="1461"/></g>
<g id="k39-1"><ellipse class="D" cx="63" cy="1499" rx="17" ry="21"/><use href="#bfK" x="63" y="1499"/></g>
<g id="k39-2"><ellipse class="C" cx="139" cy="1499" rx="17" ry="21"/><use href="#bfK" x="139" y="1499"/></g>
<g id="k39-3"><ellipse class="B" cx="215" cy="1499" rx="17" ry="21"/><use href="#fK" x="215" y="1499"/></g>
<g id="k39-4"><ellipse class="C" cx="291" cy="1499" rx="17" ry="21"/><use href="#fbK" x="291" y="1499"/></g>
<g id="k39-5"><ellipse class="D" cx="367" cy="1499" rx="17" ry="21"/><use href="#fbK" x="367" y="1499"/></g>
<g id="k40-1"><ellipse class="D" cx="101" cy="1537" rx="17" ry="21"/><use href="#fK" x="101" y="1537"/></g>
<g id="k40-2"><ellipse class="C" cx="177" cy="1537" rx="17" ry="21"/><use href="#fK" x="177" y="1537"/></g>
<g id="k40-3"><ellipse class="C" cx="253" cy="1537" rx="17" ry="21"/><use href="#bK" x="253" y="1537"/></g>
<g id="k40-4"><ellipse class="D" cx="329" cy="1537" rx="17" ry="21"/><use href="#bK" x="329" y="1537"/></g>
</g>
<text id="watermark" class="wm" x="215.5" y="800.5" textLength="155" lengthAdjust="spacingAndGlyphs">BRACELETBOOK.COM</text>
</svg>
